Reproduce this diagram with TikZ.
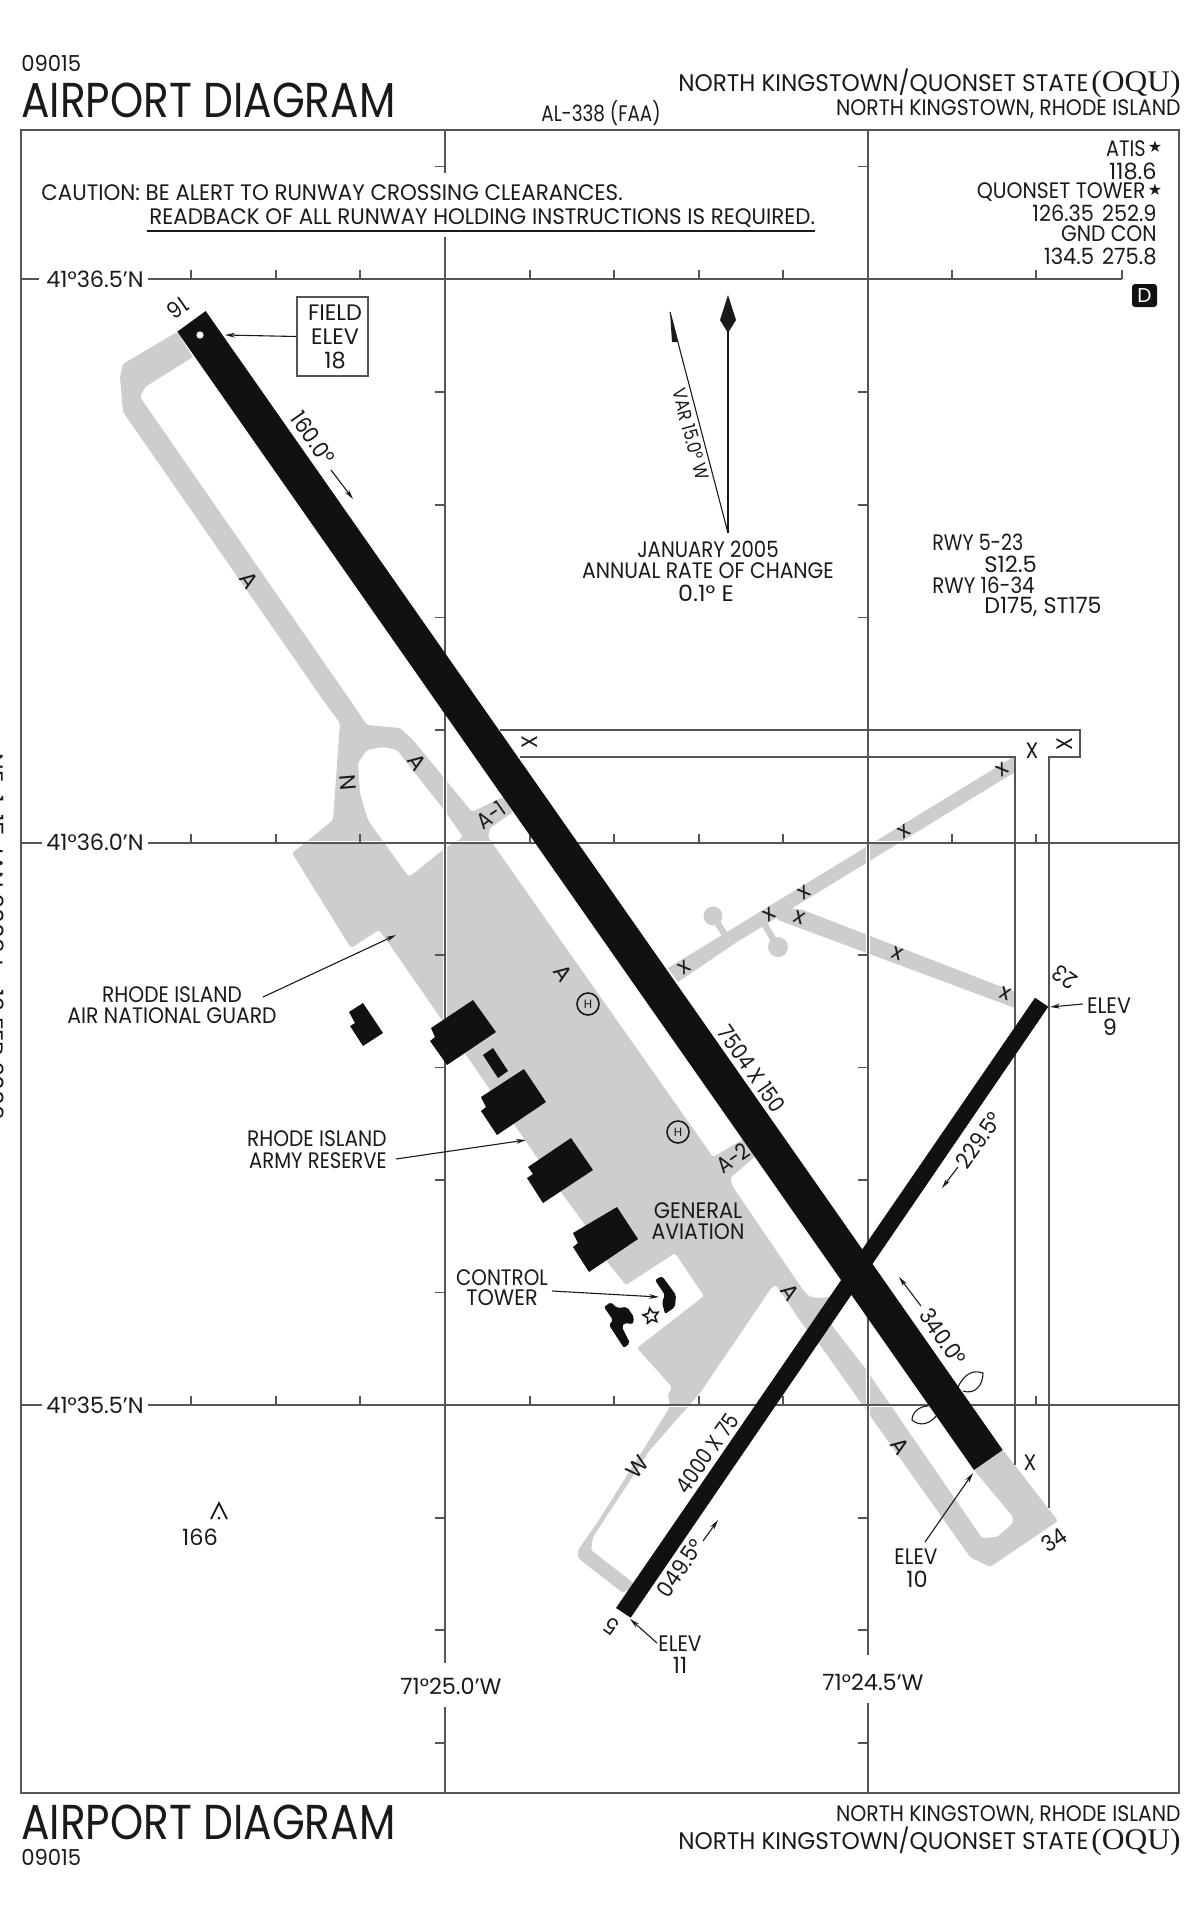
\documentclass[tikz,border=0pt]{standalone}
\usepackage{fontspec}
\setmainfont{Poppins}
\newfontfamily\serifq[FakeStretch=1.05]{Liberation Serif}
\newfontfamily\djv{DejaVu Sans}
\usetikzlibrary{arrows.meta,shapes.geometric}
\definecolor{rw}{HTML}{111111}
\definecolor{tw}{HTML}{CDCDCD}
\definecolor{gl}{HTML}{555555}
\definecolor{tx}{HTML}{1A1A1A}
\newcommand\fsz[1]{\fontsize{#1}{#1}\selectfont}
\newcommand\st[1]{\addfontfeatures{FakeStretch=#1}}
\tikzset{
  lbl/.style={inner sep=0pt,text=tx,font=\fsz{11.2}\st{0.92}},
  num/.style={inner sep=0pt,text=tx,font=\fsz{11.2}\st{1.0}},
  big/.style={inner sep=0pt,text=tx,font=\fsz{24.5}\st{0.862}},
  gridl/.style={draw=gl,line width=0.85pt},
  halo/.style={draw=white,line width=1.7pt},
  tick/.style={draw=gl,line width=0.7pt},
  arr/.style={draw=tx,line width=0.55pt,-{Stealth[length=5pt,width=2.4pt]}},
  bldg/.style={fill=rw,draw=none},
  xm/.style={inner sep=0pt,text=tx,font=\fsz{11}\st{1.0}},
  hcirc/.style={circle,draw=tx,line width=0.8pt,minimum size=11pt,inner sep=0pt,font=\fsz{6},text=tx},
}
\begin{document}
\begin{tikzpicture}[x=0.5pt,y=-0.5pt]
\useasboundingbox (0,0) rectangle (1200,1922);
% taxiways and apron
\fill[tw,rounded corners=1.2pt] (177,332) -- (123,364) -- (120,377) -- (123,412) -- (323,700) -- (340,723) -- (333,820) -- (305,843) -- (292,853) -- (351,948) -- (379,930) -- (390,945) -- (435,1010) -- (563,1195) -- (583,1222) -- (608,1263) -- (626,1285) -- (675,1253) -- (704,1296) -- (637,1348) -- (672,1387) -- (668,1395) -- (670,1407) -- (597,1523) -- (578,1550) -- (578,1558) -- (623,1593) -- (636,1585) -- (591,1550) -- (593,1537) -- (650,1450) -- (700,1393) -- (772,1287) -- (776,1285) -- (803,1325) -- (820,1345) -- (970,1557) -- (990,1567) -- (1058,1521) -- (1003,1450) -- (974,1470) -- (1013,1517) -- (1013,1523) -- (997,1537) -- (982,1538) -- (865,1368) -- (833,1327) -- (825,1310) -- (830,1297) -- (820,1298) -- (810,1297) -- (803,1290) -- (733,1187) -- (730,1178) -- (757,1155) -- (747,1137) -- (713,1157) -- (488,837) -- (490,828) -- (513,812) -- (503,797) -- (472,812) -- (413,740) -- (400,728) -- (367,725) -- (350,700) -- (140,397) -- (145,387) -- (193,357) -- cycle;
\fill[white,rounded corners=1.5pt] (358,763) -- (367,750) -- (383,747) -- (397,750) -- (410,767) -- (444,810) -- (463,837) -- (445,848) -- (409,877) -- (368,820) -- (360,793) -- cycle;
% closed taxiways east of the runway
\fill[tw] (668,968) -- (1015,756) -- (1015,772) -- (737,942) -- (678,982) -- cycle;
\fill[tw] (770,905) -- (803,910) -- (1015,992) -- (1015,1008) -- (778,920) -- cycle;
\fill[tw] (713,916) circle[radius=9.5];
\fill[tw] (778,947) circle[radius=10];
\draw[tw,line width=3.2pt] (713,916) -- (727,938);
\draw[tw,line width=3.2pt] (778,947) -- (763,922);
% grid halo over pavement
\draw[halo] (445,237) -- (445,1663);
\draw[halo] (868,279) -- (868,1655);
\draw[halo] (148,842.7) -- (1179,842.7);
\draw[halo] (148,1405.3) -- (1179,1405.3);
% grid
\draw[gridl] (445,130) -- (445,173) (445,237) -- (445,1663) (445,1707) -- (445,1793);
\draw[gridl] (868,130) -- (868,1655) (868,1703) -- (868,1793);
\draw[gridl] (21,279.3) -- (39,279.3) (148,279.3) -- (1122,279.3);
\draw[gridl] (21,842.7) -- (42,842.7) (148,842.7) -- (1179,842.7);
\draw[gridl] (21,1405.3) -- (42,1405.3) (148,1405.3) -- (1179,1405.3);
\foreach \yy in {279.3,842.7,1405.3}
  \foreach \xx in {191,276,360,530,614,699,783,952,1036}
    \draw[tick] (\xx,\yy) -- (\xx,\yy-9);
\draw[tick] (1122,279.3) -- (1122,270);
\foreach \yy in {166.7,392,505,617.5,955,1067.5,1180,1292.7,1518,1630,1743}{
  \draw[tick] (445,\yy) -- (435,\yy);
  \draw[tick] (868,\yy) -- (858,\yy);
}
\draw[tick] (445,730) -- (435,730);
\draw[gridl] (21,130) rectangle (1179,1793);
% closed runway limits
\draw[gridl] (500,730) -- (1080,730) -- (1080,757) -- (1049,757) -- (1049,1508);
\draw[gridl] (520,757) -- (1015,757) -- (1015,1465);
% lens shapes
\draw[draw=tx,line width=0.55pt,fill=white] (958,1387) .. controls (965,1372) and (975,1370) .. (983,1373) .. controls (983,1385) and (975,1395) .. (963,1391);
\draw[draw=tx,line width=0.55pt,fill=white] (928,1406) .. controls (920,1406) and (912,1412) .. (912,1420) .. controls (920,1427) and (930,1424) .. (937,1415);
% taxiway labels (cut by runways)
\node[lbl,rotate=35,font=\fsz{11.2}\st{0.88}] (lA1) at (491,815) {A-1};
\node[lbl,rotate=35,font=\fsz{11.2}\st{0.88}] (lA2) at (733,1158) {A-2};
% runways
\fill[rw] (177.3,331.7) -- (205.7,311) -- (1002.7,1450) -- (974,1470) -- cycle;
\fill[rw] (616,1608) -- (1035,997.7) -- (1048.3,1006.7) -- (630.7,1617.7) -- cycle;
\fill[white] (200,335) circle[radius=3.6];
% buildings
\fill[bldg] (349,1012) -- (363,1003) -- (383,1033) -- (363,1046) -- (350,1026) -- (355,1023) -- cycle;
\fill[bldg] (431,1028) -- (473,1000) -- (496,1032) -- (447,1065) -- (430,1041) -- (435,1037) -- cycle;
\fill[bldg] (483,1055) -- (493,1048) -- (508,1071) -- (498,1078) -- cycle;
\fill[bldg] (481,1097) -- (524,1069) -- (546,1102) -- (497,1135) -- (481,1111) -- (486,1107) -- cycle;
\fill[bldg] (528,1167) -- (571,1138) -- (593,1170) -- (543,1203) -- (527,1178) -- (533,1174) -- cycle;
\fill[bldg] (573,1233) -- (617,1207) -- (638,1239) -- (589,1272) -- (573,1247) -- (578,1243) -- cycle;
\fill[bldg,rounded corners=1pt] (655,1280) -- (662,1276) -- (676,1295) -- (675,1307) -- (665,1314) -- (662,1302) -- (665,1295) -- cycle;
\fill[bldg,rounded corners=1pt] (604,1307) -- (611,1302) -- (617,1308) -- (627,1307) -- (634,1317) -- (633,1324) -- (624,1323) -- (622,1327) -- (630,1343) -- (624,1348) -- (609,1325) -- (613,1320) -- cycle;
\node[star,star points=5,star point ratio=2.1,draw=tx,line width=0.8pt,fill=white,minimum size=8pt,inner sep=0pt,rotate=10] (tstar) at (651,1316) {};
% header
\node[lbl,anchor=west,font=\fsz{11}\st{0.96}] (hcode) at (21,63) {09015};
\node[big,anchor=west] (htitle) at (21,100) {AIRPORT DIAGRAM};
\node[lbl,anchor=east,font=\fsz{12}\st{0.965}] (hname) at (1181,83) {NORTH KINGSTOWN/QUONSET STATE\hspace{1.5pt}{\serifq\fsz{15}(OQU)}};
\node[lbl,anchor=east,font=\fsz{11.2}\st{0.91}] (hcity) at (1181,109) {NORTH KINGSTOWN, RHODE ISLAND};
\node[lbl,anchor=center,font=\fsz{11.2}\st{0.82}] (hal) at (601,113) {AL-338 (FAA)};
% comm
\node[lbl,anchor=east,font=\fsz{11.2}\st{0.86}] (atis) at (1146,149) {ATIS};
\node[anchor=center,inner sep=0pt,font=\djv\fsz{8},text=tx] (s1) at (1155,147) {★};
\node[num,anchor=east] (atisf) at (1157,171) {118.6};
\node[lbl,anchor=east,font=\fsz{11.2}\st{0.91}] (twr) at (1146,192) {QUONSET TOWER};
\node[anchor=center,inner sep=0pt,font=\djv\fsz{8},text=tx] (s2) at (1155,190) {★};
\node[lbl,anchor=east,font=\fsz{11.2}\st{0.93}] (twrf) at (1157,213) {126.35\hspace{4pt}252.9};
\node[lbl,anchor=east,font=\fsz{11.2}\st{0.905}] (gnd) at (1157,234) {GND CON};
\node[lbl,anchor=east,font=\fsz{11.2}\st{0.94}] (gndf) at (1157,256) {134.5\hspace{4pt}275.8};
\node[rectangle,fill=rw,rounded corners=1.5pt,minimum width=12.5pt,minimum height=11.5pt,inner sep=0pt,text=white,font=\fsz{10}] (dbox) at (1144.5,295.5) {D};
% caution
\node[lbl,anchor=west,font=\fsz{11.2}\st{0.955}] (caut1) at (41,193) {CAUTION: BE ALERT TO RUNWAY CROSSING CLEARANCES.};
\node[lbl,anchor=west,font=\fsz{11.2}\st{0.955}] (caut2) at (149,218) {READBACK OF ALL RUNWAY HOLDING INSTRUCTIONS IS REQUIRED.};
\draw[draw=tx,line width=0.9pt] (147,231) -- (815,231);
% lat long
\node[num] (lat1) at (95,279.3) {41°36.5'N};
\node[num] (lat2) at (95,842.7) {41°36.0'N};
\node[num] (lat3) at (95,1405.3) {41°35.5'N};
\node[num] (lon1) at (451,1686) {71°25.0'W};
\node[num] (lon2) at (873,1682) {71°24.5'W};
% field elevation
\node[draw=gl,line width=0.7pt,minimum width=35.5pt,minimum height=39.5pt,inner sep=0pt] (fbox) at (332.5,336.5) {};
\node[num] (f1) at (335,313) {FIELD};
\node[num] (f2) at (335,337) {ELEV};
\node[num] (f3) at (335,360) {18};
\coordinate (ftip) at (225,335);
\draw[arr] (fbox.west) -- (ftip);
% runway labels
\node[lbl,rotate=215] (r16) at (178,308) {16};
\node[lbl,rotate=34.5] (r34) at (1054,1540) {34};
\node[lbl,rotate=145] (r5) at (612,1626) {5};
\node[lbl,rotate=145] (r23) at (1065,977) {23};
\node[lbl,rotate=-55] (d160) at (313,438) {160.0°};
\coordinate (a160s) at (331,470); \coordinate (a160e) at (353,499);
\draw[arr] (a160s) -- (a160e);
\node[lbl,rotate=-55,font=\fsz{11.2}\st{0.86}] (dim1) at (752,1069) {7504 X 150};
\node[lbl,rotate=-55] (d340) at (943,1337) {340.0°};
\coordinate (a340s) at (921,1306); \coordinate (a340e) at (899,1277);
\draw[arr] (a340s) -- (a340e);
\node[lbl,rotate=55] (d229) at (979,1140) {229.5°};
\coordinate (a229s) at (958,1167); \coordinate (a229e) at (942,1188);
\draw[arr] (a229s) -- (a229e);
\node[lbl,rotate=55,font=\fsz{11.2}\st{0.84}] (dim2) at (707,1453) {4000 X 75};
\node[lbl,rotate=55] (d049) at (680,1568) {049.5°};
\coordinate (a049s) at (703,1541); \coordinate (a049e) at (718,1520);
\draw[arr] (a049s) -- (a049e);
% taxiway letters
\node[num,rotate=-55] (tA1) at (249,580) {A};
\node[num,rotate=-55] (tA2) at (417,762) {A};
\node[num,rotate=-55] (tA3) at (563,973) {A};
\node[num,rotate=-55] (tA4) at (790,1292) {A};
\node[num,rotate=-55] (tA5) at (900,1446) {A};
\node[num,rotate=-85] (tN) at (348,783) {N};
\node[num,rotate=50] (tW) at (638,1467) {W};
% crossed marks
\node[xm,rotate=35] (x1) at (684,968) {x};
\node[xm,rotate=35] (x2) at (769,915) {x};
\node[xm,rotate=35] (x3) at (804,893) {x};
\node[xm,rotate=-20] (x4) at (800,918) {x};
\node[xm,rotate=35] (x5) at (904,832) {x};
\node[xm,rotate=-20] (x6) at (898,954) {x};
\node[xm,rotate=-20] (x7) at (1006,994) {x};
\node[xm,rotate=35] (x8) at (1002,770) {x};
\node[lbl,rotate=90] (x9) at (1065,744) {X};
\node[lbl] (x10) at (1032,751) {X};
\node[lbl,rotate=90] (x11) at (530,742) {X};
\node[lbl] (x12) at (1030,1463) {X};
% helipads
\node[hcirc] (h1) at (588,1004) {H};
\node[hcirc] (h2) at (678,1132) {H};
% north arrow and variation
\coordinate (nbase) at (728,533);
\coordinate (ntip) at (728,330);
\coordinate (vtip) at (670,312);
\draw[draw=tx,line width=0.55pt] (nbase) -- (ntip);
\draw[draw=tx,line width=0.55pt] (nbase) -- (vtip);
\fill[tx] (728,295) -- (736,320) -- (728,333) -- (720,320) -- cycle;
\fill[tx] (670,312) -- (678,342) -- (672,342) -- cycle;
\node[lbl,rotate=-75,font=\fsz{9.5}\st{0.87}] (var) at (691,434) {VAR 15.0° W};
\node[lbl,font=\fsz{11.2}\st{0.88}] (jan) at (708,549) {JANUARY 2005};
\node[lbl,font=\fsz{11.2}\st{0.905}] (ann) at (708,571) {ANNUAL RATE OF CHANGE};
\node[lbl,font=\fsz{11.2}\st{1.06}] (rate) at (706,593) {0.1° E};
% pavement data
\node[lbl,anchor=west,font=\fsz{11.2}\st{0.85}] (p1) at (932,542) {RWY 5-23};
\node[lbl,anchor=west,font=\fsz{11.2}\st{1.01}] (p2) at (984,564) {S12.5};
\node[lbl,anchor=west,font=\fsz{11.2}\st{0.885}] (p3) at (932,585) {RWY 16-34};
\node[lbl,anchor=west,font=\fsz{11.2}\st{0.99}] (p4) at (984,607) {D175, ST175};
% annotations
\node[lbl,font=\fsz{11.2}\st{0.9}] (ang1) at (172,995) {RHODE ISLAND};
\node[lbl,font=\fsz{11.2}\st{0.91}] (ang2) at (172,1016) {AIR NATIONAL GUARD};
\coordinate (angs) at (263,997); \coordinate (ange) at (396,935);
\draw[arr] (angs) -- (ange);
\node[lbl,anchor=east,font=\fsz{11.2}\st{0.9}] (arm1) at (387,1139) {RHODE ISLAND};
\node[lbl,anchor=east,font=\fsz{11.2}\st{0.875}] (arm2) at (387,1161) {ARMY RESERVE};
\coordinate (arms) at (396,1159); \coordinate (arme) at (526,1140);
\draw[arr] (arms) -- (arme);
\node[lbl,font=\fsz{11.2}\st{0.936}] (ga1) at (698,1211) {GENERAL};
\node[lbl,font=\fsz{11.2}\st{0.91}] (ga2) at (698,1232) {AVIATION};
\node[lbl,font=\fsz{11.2}\st{0.886}] (ct1) at (502,1278) {CONTROL};
\node[lbl,font=\fsz{11.2}\st{0.93}] (ct2) at (502,1298) {TOWER};
\coordinate (cts) at (552,1291); \coordinate (cte) at (659,1297);
\draw[arr] (cts) -- (cte);
% elevations
\node[lbl] (e91) at (1109,1006) {ELEV};
\node[num] (e92) at (1110,1027) {9};
\coordinate (e9s) at (1083,1004); \coordinate (e9e) at (1050,1007);
\draw[arr] (e9s) -- (e9e);
\node[lbl,font=\fsz{11.2}\st{0.9}] (e101) at (916,1557) {ELEV};
\node[num] (e102) at (917,1579) {10};
\coordinate (e10s) at (925,1542); \coordinate (e10e) at (973,1473);
\draw[arr] (e10s) -- (e10e);
\node[lbl,font=\fsz{11.2}\st{0.9}] (e111) at (680,1644) {ELEV};
\node[num] (e112) at (680,1665) {11};
\coordinate (e11s) at (657,1643); \coordinate (e11e) at (630,1619);
\draw[arr] (e11s) -- (e11e);
% obstacle
\draw[draw=tx,line width=0.9pt,line join=miter] (211,1519) -- (219,1503) -- (227,1519);
\fill[tx] (219,1518) circle[radius=1.5];
\node[num] (obs) at (200,1537) {166};
% footer
\node[big,anchor=west] (ftitle) at (21,1822) {AIRPORT DIAGRAM};
\node[lbl,anchor=west,font=\fsz{11}\st{0.96}] (fcode) at (21,1857) {09015};
\node[lbl,anchor=east,font=\fsz{11.2}\st{0.91}] (fcity) at (1181,1815) {NORTH KINGSTOWN, RHODE ISLAND};
\node[lbl,anchor=east,font=\fsz{12}\st{0.965}] (fname) at (1181,1841) {NORTH KINGSTOWN/QUONSET STATE\hspace{1.5pt}{\serifq\fsz{15}(OQU)}};
% margin text, cut by the page edge
\node[lbl,rotate=-90,anchor=south,font=\fsz{11.2}\st{1.06}] (side) at (-16,937) {NE-1, 15 JAN 2009 to 12 FEB 2009};
\end{tikzpicture}
\end{document}
